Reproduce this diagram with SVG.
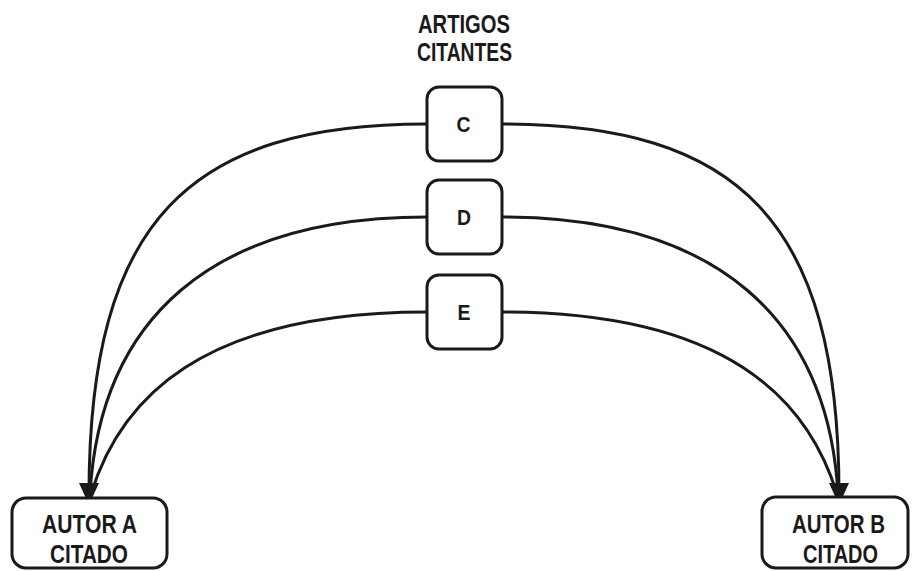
<svg xmlns="http://www.w3.org/2000/svg" width="912" height="571" viewBox="0 0 912 571">
<style>
.box{fill:#fff;stroke:#1a1a1a;stroke-width:3}
.lbl{font-family:"Liberation Sans",Arial,sans-serif;font-weight:bold;fill:#1a1a1a;text-anchor:middle}
.big{font-size:26px}
.mid{font-size:25px}
.sm{font-size:22px}
.con{fill:none;stroke:#1a1a1a;stroke-width:3}
</style>
<defs>
<marker id="arr" markerUnits="userSpaceOnUse" viewBox="0 0 22 20" markerWidth="22" markerHeight="20" refX="11" refY="10" orient="auto" overflow="visible">
<path d="M0,0 L22,10 L0,20 z" fill="#1a1a1a"/>
</marker>
</defs>
<rect width="912" height="571" fill="#fff"/>
<g id="connectors">
<path class="con" d="M427,217 C210,217 100,320 90,494"/>
<path class="con" d="M427,312 C200,312 120,400 91,494"/>
<path class="con" d="M502,217 C718,217 828,320 838,494"/>
<path class="con" d="M502,312 C728,312 808,400 837,494"/>
<path class="con" d="M427,124 C190,124 89,220 89,494" marker-end="url(#arr)"/>
<path class="con" d="M502,124 C738,124 839,220 839,494" marker-end="url(#arr)"/>
</g>
<g id="title">
<text class="lbl mid" x="464" y="33" textLength="92" lengthAdjust="spacingAndGlyphs">ARTIGOS</text>
<text class="lbl mid" x="464.5" y="61" textLength="95" lengthAdjust="spacingAndGlyphs">CITANTES</text>
</g>
<g id="nodeC">
<rect class="box" x="427" y="87" width="75" height="74" rx="12"/>
<text class="lbl sm" x="463.5" y="132" textLength="14" lengthAdjust="spacingAndGlyphs">C</text>
</g>
<g id="nodeD">
<rect class="box" x="427" y="180" width="75" height="74" rx="12"/>
<text class="lbl sm" x="464" y="225" textLength="14" lengthAdjust="spacingAndGlyphs">D</text>
</g>
<g id="nodeE">
<rect class="box" x="427" y="275" width="75" height="74" rx="12"/>
<text class="lbl sm" x="464" y="320" textLength="13" lengthAdjust="spacingAndGlyphs">E</text>
</g>
<g id="nodeA">
<rect class="box" x="12" y="498" width="155" height="70" rx="14"/>
<text class="lbl big" x="89.5" y="533" textLength="95" lengthAdjust="spacingAndGlyphs">AUTOR A</text>
<text class="lbl big" x="89" y="563" textLength="78" lengthAdjust="spacingAndGlyphs">CITADO</text>
</g>
<g id="nodeB">
<rect class="box" x="762" y="497" width="146" height="71" rx="14"/>
<text class="lbl big" x="838.5" y="533" textLength="93" lengthAdjust="spacingAndGlyphs">AUTOR B</text>
<text class="lbl big" x="840.5" y="563" textLength="75" lengthAdjust="spacingAndGlyphs">CITADO</text>
</g>
</svg>
